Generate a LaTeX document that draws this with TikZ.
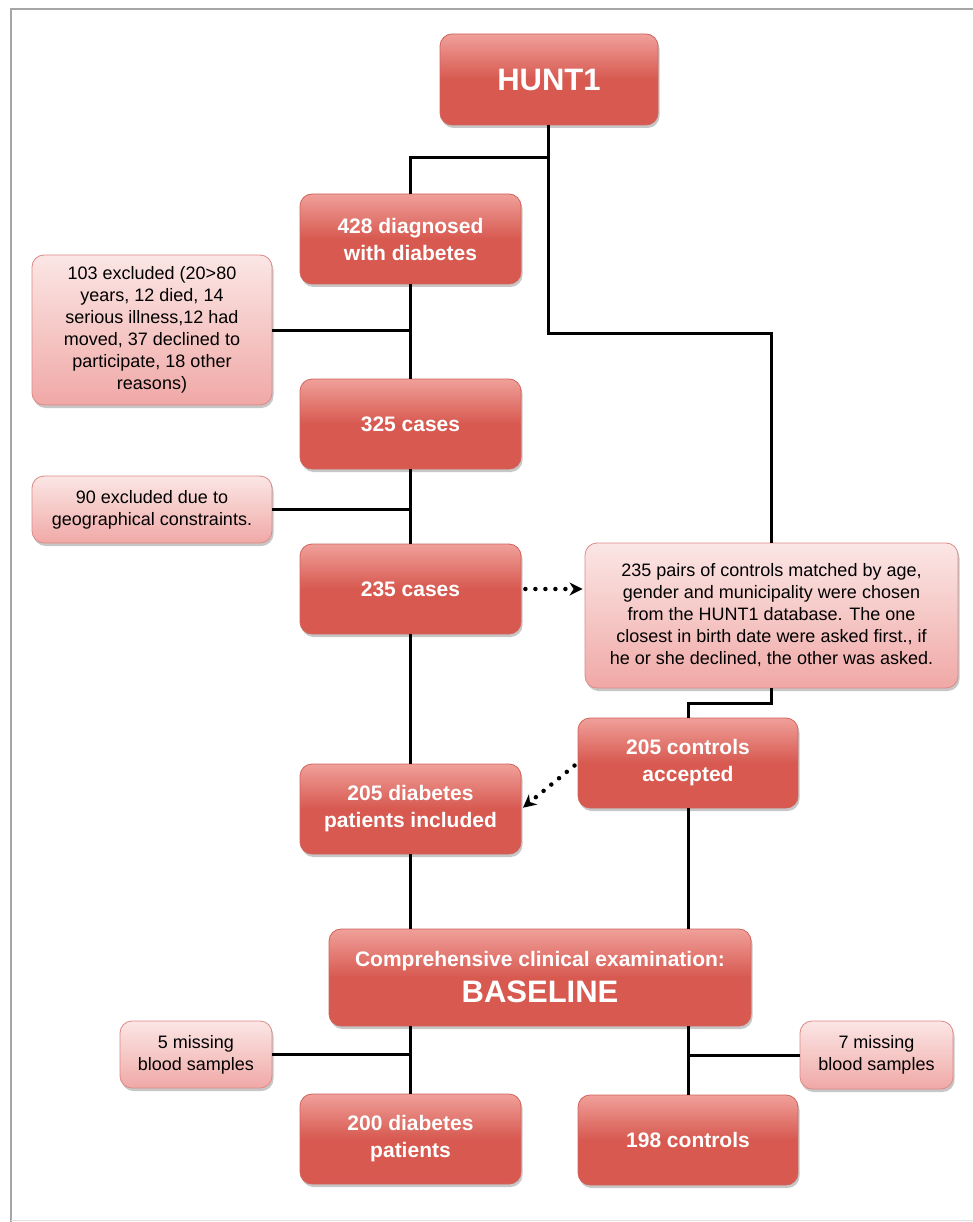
\documentclass[tikz,border=0pt]{standalone}
\usepackage{fontspec}
\setmainfont{Liberation Sans}
\usetikzlibrary{shadows,arrows.meta,calc}
\definecolor{darktop}{HTML}{F0A09A}
\definecolor{darkbot}{HTML}{D75950}
\definecolor{darkedge}{HTML}{D0645C}
\definecolor{paletop}{HTML}{FBE6E5}
\definecolor{palemid}{HTML}{F5C8C6}
\definecolor{palebot}{HTML}{F0A8A6}
\definecolor{paleedge}{HTML}{DC8A86}
\tikzset{
  shad/.style={drop shadow={shadow xshift=1.5pt, shadow yshift=-3pt, fill=black, opacity=0.22}},
  darkbox/.style={shad, rounded corners=12pt, draw=darkedge, line width=0.8pt,
    top color=darktop, bottom color=darkbot, middle color=darkbot,
    inner sep=0pt, align=center, text=white,
    font=\fontsize{21}{27}\selectfont\bfseries},
  palebox/.style={shad, rounded corners=12pt, draw=paleedge, line width=0.8pt,
    top color=paletop, bottom color=palebot, middle color=palemid,
    inner sep=0pt, align=center, text=black,
    font=\fontsize{18}{22}\selectfont},
  conn/.style={line width=3pt, black},
  dotarrow/.style={line width=4.5pt, line cap=round, dash pattern=on 0pt off 10pt,
    -{Stealth[length=13pt,width=13pt,inset=4pt]}, shorten <=4pt, shorten >=2pt}
}
\begin{document}
\begin{tikzpicture}[x=1pt,y=-1pt]
\useasboundingbox (0,0) rectangle (973,1222);
\fill[white] (0,0) rectangle (973,1222);
% page frame
\draw[black!35, line width=2pt] (11,1222) -- (11,9) -- (973,9);
\draw[black!12, line width=1pt] (11,1220) -- (973,1220);

% nodes
\node[darkbox, minimum width=218pt, minimum height=91pt, font=\fontsize{31}{36}\selectfont\bfseries] (hunt) at (549,79.5) {HUNT1};
\node[darkbox, minimum width=221pt, minimum height=90pt] (diag) at (410.5,239) {428 diagnosed\\with diabetes};
\node[palebox, minimum width=240pt, minimum height=150pt] (excl1) at (152,330) {103 excluded (20>80\\years, 12 died, 14\\serious illness,12 had\\moved, 37 declined to\\participate, 18 other\\reasons)};
\node[darkbox, minimum width=221pt, minimum height=90pt] (c325) at (410.5,424) {325 cases};
\node[palebox, minimum width=240pt, minimum height=67pt] (excl2) at (152,509.5) {90 excluded due to\\geographical constraints.};
\node[darkbox, minimum width=221pt, minimum height=90pt] (c235) at (410.5,589) {235 cases};
\node[palebox, minimum width=373pt, minimum height=145pt] (pairs) at (771.5,615.5) {235 pairs of controls matched by age,\\gender and municipality were chosen\\from the HUNT1 database. The one\\closest in birth date were asked first., if\\he or she declined, the other was asked.};
\node[darkbox, minimum width=220pt, minimum height=90pt] (ctrl) at (688,763) {205 controls\\accepted};
\node[darkbox, minimum width=221pt, minimum height=90pt] (incl) at (410.5,809) {205 diabetes\\patients included};
\node[darkbox, minimum width=422pt, minimum height=97pt, font=\fontsize{21}{36}\selectfont\bfseries] (base) at (540,977.5) {Comprehensive clinical examination:\\{\fontsize{31}{36}\selectfont BASELINE}};
\node[palebox, minimum width=152pt, minimum height=67pt] (miss5) at (196,1054.5) {5 missing\\blood samples};
\node[palebox, minimum width=153pt, minimum height=68pt] (miss7) at (876.5,1055) {7 missing\\blood samples};
\node[darkbox, minimum width=221pt, minimum height=90pt] (p200) at (410.5,1139) {200 diabetes\\patients};
\node[darkbox, minimum width=220pt, minimum height=90pt] (p198) at (688,1140) {198 controls};

% connectors
\coordinate (j1) at (548,158);
\coordinate (j2) at (548,333);
\draw[conn] (hunt.south -| j1) -- (j1) -| (diag.north);
\draw[conn] (j1) -- (j2) -| (pairs.north);
\draw[conn] (diag.south) -- (c325.north);
\draw[conn] (excl1.east) -- (excl1.east -| diag.south);
\draw[conn] (c325.south) -- (c235.north);
\draw[conn] (excl2.east) -- (excl2.east -| c325.south);
\draw[conn] (c235.south) -- (incl.north);
\draw[conn] (pairs.south) -- ++(0,15) -| (ctrl.north);
\draw[dotarrow] (c235.east) -- (c235.east -| pairs.west);
\draw[dotarrow] (ctrl.west) -- (incl.east);
\draw[conn] (incl.south) -- (incl.south |- base.north);
\draw[conn] (ctrl.south) -- (ctrl.south |- base.north);
\draw[conn] (incl.south |- base.south) -- (p200.north);
\draw[conn] (miss5.east) -- (miss5.east -| p200.north);
\draw[conn] (ctrl.south |- base.south) -- (p198.north);
\draw[conn] (miss7.west) -- (miss7.west -| p198.north);
\end{tikzpicture}
\end{document}
